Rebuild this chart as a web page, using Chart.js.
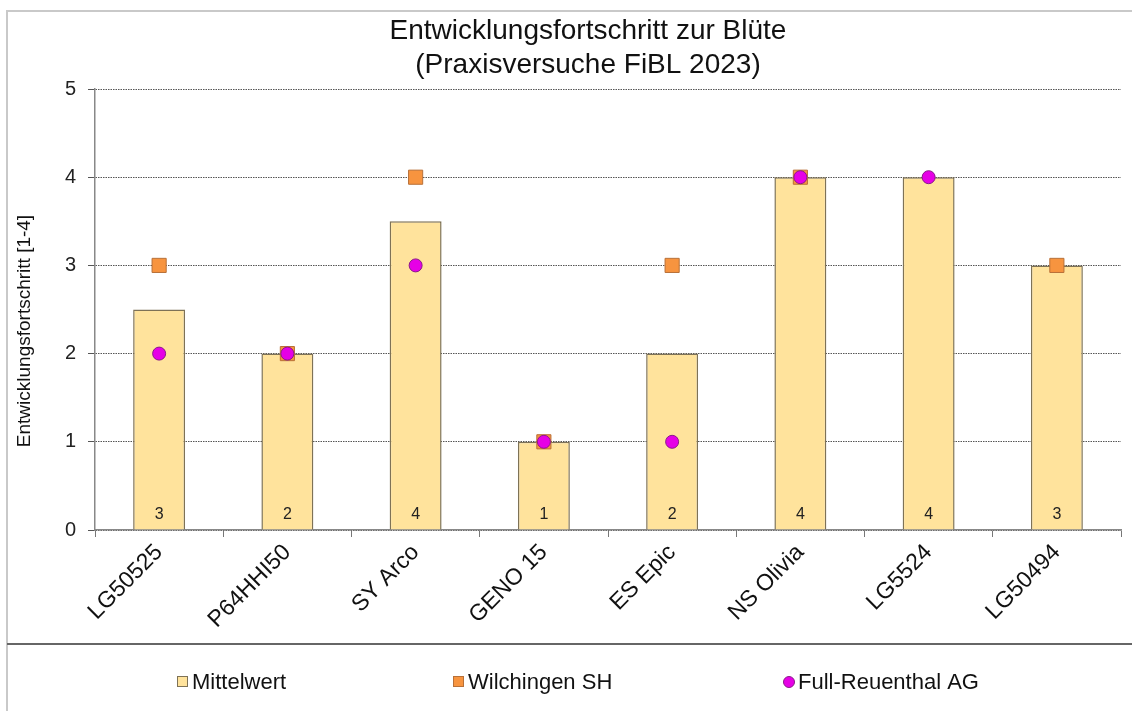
<!DOCTYPE html>
<html>
<head>
<meta charset="utf-8">
<script src="https://cdn.jsdelivr.net/npm/chart.js@4.4.1/dist/chart.umd.min.js"></script>
<style>
  html, body { margin: 0; padding: 0; background: #fff; }
</style>
</head>
<body>
<canvas id="chart" width="1132" height="711"></canvas>
<script>
const sorten = ['LG50525', 'P64HHI50', 'SY Arco', 'GENO 15', 'ES Epic', 'NS Olivia', 'LG5524', 'LG50494'];
const mittelwert = [2.5, 2, 3.5, 1, 2, 4, 4, 3];
const wilchingen = [3, 2, 4, 1, 3, 4, null, 3];
const fullReuenthal = [2, 2, 3, 1, 1, 4, 4, null];
const anzahl = [3, 2, 4, 1, 2, 4, 4, 3];
const yTicks = [0, 1, 2, 3, 4, 5];
const titel = ['Entwicklungsfortschritt zur Blüte', '(Praxisversuche FiBL 2023)'];
const yTitel = 'Entwicklungsfortschritt [1-4]';

const FONT = '"Liberation Sans", Arial, sans-serif';

// frame, titles, counts in the bars and the legend below the separator
const deko = {
  id: 'deko',
  beforeDraw(chart) {
    const ctx = chart.ctx;
    ctx.save();
    ctx.strokeStyle = '#c9c9c9';
    ctx.lineWidth = 2;
    ctx.beginPath();
    ctx.moveTo(7, 711);
    ctx.lineTo(7, 11);
    ctx.lineTo(1132, 11);
    ctx.stroke();
    ctx.restore();
  },
  afterDatasetsDraw(chart) {
    const ctx = chart.ctx;
    const y0 = chart.scales.y.getPixelForValue(0);
    ctx.save();
    ctx.font = '16px ' + FONT;
    ctx.fillStyle = '#222';
    ctx.textAlign = 'center';
    ctx.textBaseline = 'middle';
    chart.getDatasetMeta(0).data.forEach((bar, i) => {
      ctx.fillText(String(anzahl[i]), bar.x, y0 - 15);
    });
    ctx.restore();
  },
  afterDraw(chart) {
    const ctx = chart.ctx;
    ctx.save();
    ctx.fillStyle = '#111';
    ctx.textAlign = 'center';
    ctx.textBaseline = 'middle';
    ctx.font = '28px ' + FONT;
    titel.forEach((t, i) => ctx.fillText(t, 588, 31 + i * 34));

    ctx.save();
    ctx.translate(25, 331);
    ctx.rotate(-Math.PI / 2);
    ctx.font = '19px ' + FONT;
    ctx.fillText(yTitel, 0, 0);
    ctx.restore();

    // separator
    ctx.strokeStyle = '#666';
    ctx.lineWidth = 2;
    ctx.beginPath();
    ctx.moveTo(7, 644);
    ctx.lineTo(1132, 644);
    ctx.stroke();

    // legend
    const lx = [177, 453, 783];
    const ly = 682;
    ctx.font = '22px ' + FONT;
    ctx.textAlign = 'left';
    chart.data.datasets.forEach((ds, i) => {
      ctx.fillStyle = ds.backgroundColor;
      ctx.strokeStyle = ds.borderColor;
      ctx.lineWidth = 1;
      if (ds.pointStyle === 'circle') {
        ctx.beginPath();
        ctx.arc(lx[i] + 6, ly, 5.5, 0, Math.PI * 2);
        ctx.fill();
        ctx.stroke();
      } else {
        ctx.fillRect(lx[i], ly - 6, 11, 11);
        ctx.strokeRect(lx[i] + 0.5, ly - 5.5, 10, 10);
      }
      ctx.fillStyle = '#111';
      ctx.fillText(ds.label, lx[i] + 15, ly + 1);
    });
    ctx.restore();
  }
};

new Chart(document.getElementById('chart'), {
  type: 'bar',
  data: {
    labels: sorten,
    datasets: [
      {
        label: 'Mittelwert',
        data: mittelwert,
        backgroundColor: '#ffe39c',
        borderColor: '#7e7256',
        borderWidth: 1.5,
        categoryPercentage: 1,
        barPercentage: 0.405,
        pointStyle: 'rect',
        order: 3
      },
      {
        type: 'line',
        label: 'Wilchingen SH',
        data: wilchingen,
        showLine: false,
        backgroundColor: '#f7943f',
        borderColor: '#b87038',
        borderWidth: 1,
        pointStyle: 'rect',
        pointRadius: 10,
        pointHoverRadius: 10,
        order: 2
      },
      {
        type: 'line',
        label: 'Full-Reuenthal AG',
        data: fullReuenthal,
        showLine: false,
        backgroundColor: '#e600e6',
        borderColor: '#8a1a8a',
        borderWidth: 1,
        pointStyle: 'circle',
        pointRadius: 6.5,
        pointHoverRadius: 6.5,
        order: 1
      }
    ]
  },
  options: {
    responsive: false,
    animation: false,
    layout: { padding: { top: 89, left: 0, right: 9, bottom: 81 } },
    plugins: {
      legend: { display: false },
      title: { display: false },
      tooltip: { enabled: false }
    },
    scales: {
      x: {
        offset: true,
        grid: { offset: true, drawOnChartArea: false, color: '#777', tickLength: 7 },
        border: { color: '#888', width: 1.5 },
        ticks: {
          color: '#111',
          font: { family: FONT, size: 23 },
          minRotation: 45,
          maxRotation: 45,
          padding: 2
        },
        afterFit(s) { s.height = 100; }
      },
      y: {
        min: 0,
        max: 5,
        afterBuildTicks(s) { s.ticks = yTicks.map(v => ({ value: v })); },
        grid: { color: '#555', tickLength: 7, tickBorderDash: [0, 0] },
        border: { color: '#888', width: 1.5, dash: [1.5, 1] },
        ticks: {
          color: '#222',
          font: { family: FONT, size: 20 },
          padding: 12
        },
        afterFit(s) { s.width = 95; }
      }
    }
  },
  plugins: [deko]
});
</script>
</body>
</html>
